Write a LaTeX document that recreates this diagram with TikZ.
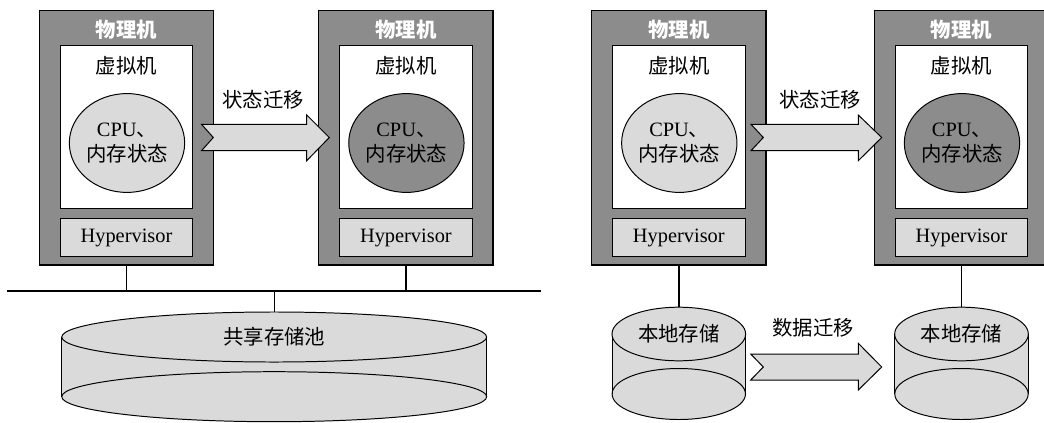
\documentclass[tikz,border=0pt]{standalone}
\usepackage{fontspec}
\setmainfont{Liberation Serif}
\newfontfamily\cjk{Noto Sans CJK SC}
\usetikzlibrary{shapes.geometric}
\definecolor{hostgray}{HTML}{8C8C8C}
\definecolor{paleg}{HTML}{DADADA}

\begin{document}
\begin{tikzpicture}
[x=0.025cm, y=-0.025cm,
 font=\fontsize{14.5}{17.5}\selectfont,
 host/.style={draw, line width=1pt, fill=hostgray, minimum width=4.36cm, minimum height=6.36cm},
 vmbox/.style={draw, line width=0.8pt, fill=white, minimum width=3.32cm, minimum height=4.09cm},
 hyper/.style={draw, line width=0.8pt, fill=paleg, minimum width=3.32cm, minimum height=0.96cm},
 memstate/.style={ellipse, draw, line width=0.7pt, minimum width=2.85cm, minimum height=2.47cm, align=center, inner sep=0pt},
 fatarrow/.style={draw, line width=0.7pt, fill=paleg},
 disk/.style={draw, line width=0.7pt, fill=paleg},
 disktop/.style={ellipse, disk, inner sep=0pt}]
  \useasboundingbox (0,0) rectangle (1044,422);
  % the four hosts
  \foreach \n/\x/\c in {1/126.5/paleg, 2/405.9/hostgray, 3/678.8/paleg, 4/961.5/hostgray} {
    \node (m\n) [host] at (\x,137.9) {};
    \node (title\n) [text=white] at (\x,30) {\cjk\bfseries 物理机};
    \node (vm\n) [vmbox] at (\x,126.9) {};
    \node (vmname\n) at (\x,66) {\cjk 虚拟机};
    \node (st\n) [memstate, fill=\c] at (\x+0.5,143) {CPU{\cjk 、}\\{\cjk 内存状态}};
    \node (hv\n) [hyper] at (\x,237.5) {Hypervisor};
  }
  % shared storage
  \coordinate (busL) at (7,291);
  \coordinate (busR) at (541,291);
  \draw [line width=1pt] (busL) -- (busR);
  \fill [paleg] (61.7,337) rectangle (486.7,396.7);
  \draw [disk] (274.2,396.7) ellipse [x radius=212.5, y radius=25];
  \draw [line width=0.7pt] (61.7,337) -- (61.7,396.7);
  \draw [line width=0.7pt] (486.7,337) -- (486.7,396.7);
  \node (pool) [disktop, minimum width=10.62cm, minimum height=1.25cm] at (274.2,337) {\cjk 共享存储池};
  \draw [line width=1pt] (m1.south) -- (m1.south |- busL);
  \draw [line width=1pt] (m2.south) -- (m2.south |- busL);
  \draw [line width=1pt] (pool.north |- busL) -- (pool.north);
  % local storage
  \foreach \n/\x in {3/678.8, 4/961.5} {
    \fill [paleg] (\x-66.7,334) rectangle (\x+66.7,394);
    \draw [disk] (\x,394) ellipse [x radius=66.7, y radius=25.5];
    \draw [line width=0.7pt] (\x-66.7,334) -- (\x-66.7,394);
    \draw [line width=0.7pt] (\x+66.7,334) -- (\x+66.7,394);
    \node (loc\n) [disktop, minimum width=3.34cm, minimum height=1.34cm] at (\x,334) {\cjk 本地存储};
    \draw [line width=1pt] (m\n.south) -- (loc\n.north);
  }
  % migration arrows
  \draw [fatarrow] (201.5,124.3) -- (306.7,124.3) -- (306.7,115) -- (329.3,137.5)
    -- (306.7,160.7) -- (306.7,150.7) -- (201.5,150.7) -- (213.3,137.5) -- cycle;
  \node (mig1) at (263,100) {\cjk 状态迁移};
  \draw [fatarrow] (751,124.3) -- (858.3,124.3) -- (858.3,115) -- (881.7,137.5)
    -- (858.3,160.7) -- (858.3,150.7) -- (751,150.7) -- (763.3,137.5) -- cycle;
  \node (mig2) at (820,100) {\cjk 状态迁移};
  \draw [fatarrow] (750.7,354) -- (858.3,354) -- (858.3,343.3) -- (881.7,367)
    -- (858.3,390) -- (858.3,380) -- (750.7,380) -- (763.3,367) -- cycle;
  \node (mig3) at (813,328) {\cjk 数据迁移};
\end{tikzpicture}
\end{document}
